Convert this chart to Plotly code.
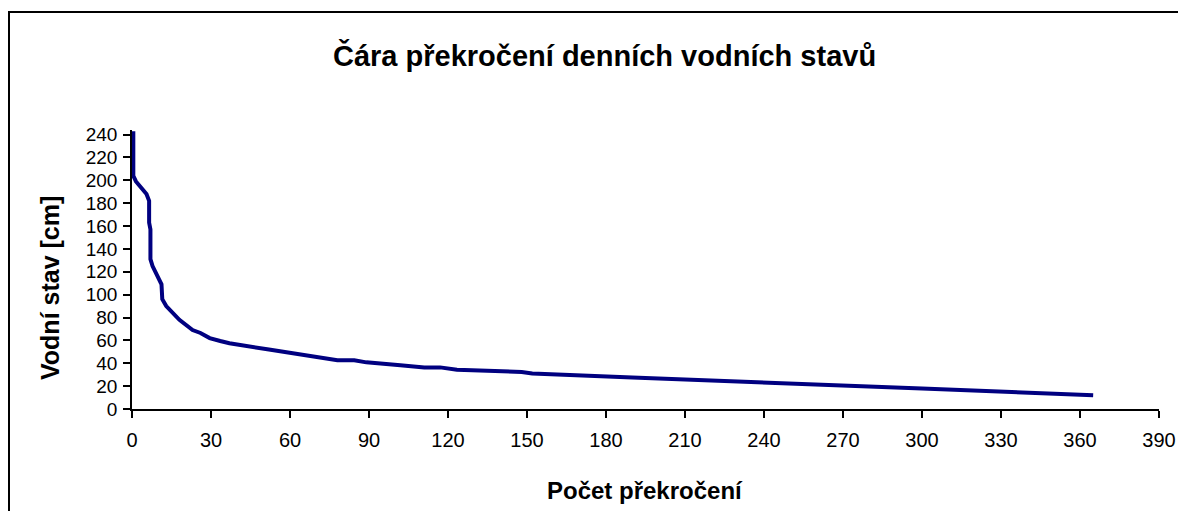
import plotly.graph_objects as go

# Data
pocet = [0.5, 0.5, 1.5, 3.5, 5.5, 6.5, 6.5, 7, 7, 7.8, 11.2, 11.5, 13, 18, 23, 26, 29.5, 33.5,
         37, 52, 56.5, 65, 78, 84.4, 89, 101.9, 111, 117, 123.4, 148, 152, 190, 238, 254, 300, 365]
stav = [243, 204, 199, 193, 188, 182, 163, 157, 131, 125, 109, 96, 90, 78, 69, 66.5, 62, 59.5,
        57.5, 52, 50.4, 47.5, 42.6, 42.6, 40.8, 38.3, 36.4, 36.4, 34.4, 32.4, 31, 27.5, 23.6, 22, 18, 12]
x_ticks = list(range(0, 391, 30))
y_ticks = list(range(0, 241, 20))

# The page body has an 8px margin, so the figure is drawn from (8, 8)
OFF = 8
W, H = 1170, 503
L, R, T, B = 124, 19, 122, 102
pw, ph = W - L - R, H - T - B

def px(ax):
    return (ax - OFF - L) / pw

def py(ay):
    return (OFF + T + ph - ay) / ph

fig = go.Figure()
fig.add_trace(go.Scatter(x=pocet, y=stav, mode="lines",
                         line=dict(color="#000080", width=4), showlegend=False))

font = "Arial, Liberation Sans, sans-serif"
fig.update_layout(
    template="none",
    width=W, height=H,
    margin=dict(l=L, r=R, t=T, b=B, autoexpand=False),
    paper_bgcolor="white", plot_bgcolor="white",
    font=dict(family=font, color="black", size=20),
    xaxis=dict(range=[0, 390], tickvals=x_ticks, ticks="outside", ticklen=7, tickwidth=1.5,
               tickcolor="black", showline=True, linecolor="black", linewidth=1.5,
               showgrid=False, zeroline=False, automargin=False,
               tickfont=dict(size=20, family=font), ticklabelstandoff=5),
    yaxis=dict(range=[0, 244], tickvals=y_ticks, ticks="outside", ticklen=7, tickwidth=1.5,
               tickcolor="black", showline=True, linecolor="black", linewidth=1.5,
               showgrid=False, zeroline=False, automargin=False,
               tickfont=dict(size=19, family=font), ticklabelstandoff=2),
    annotations=[
        dict(text="<b>Čára překročení denních vodních stavů</b>", xref="paper", yref="paper",
             x=px(604), y=py(55), xanchor="center", yanchor="middle", showarrow=False,
             font=dict(size=29, family=font)),
        dict(text="<b>Počet překročení</b>", xref="paper", yref="paper",
             x=px(645), y=py(491), xanchor="center", yanchor="middle", showarrow=False,
             font=dict(size=24, family=font)),
        dict(text="<b>Vodní stav [cm]</b>", xref="paper", yref="paper", textangle=-90,
             x=px(50), y=py(288), xanchor="center", yanchor="middle", showarrow=False,
             font=dict(size=25, family=font)),
    ],
    shapes=[dict(type="rect", xref="paper", yref="paper",
                 x0=px(9), x1=px(1200), y0=py(540), y1=py(12),
                 line=dict(color="black", width=2), layer="above")],
)

fig.write_html("out.html")
